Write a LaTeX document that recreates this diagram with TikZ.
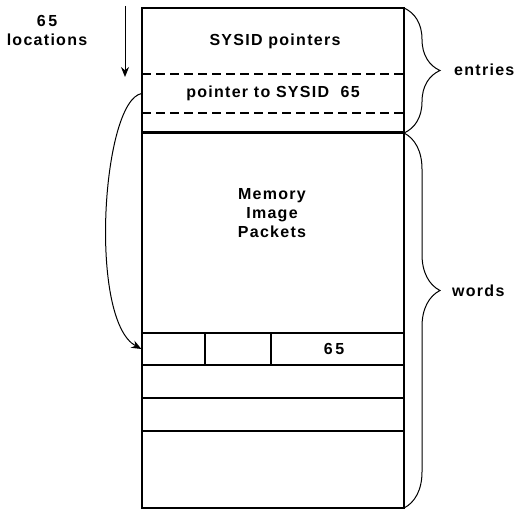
\documentclass[tikz,border=0pt]{standalone}
\usepackage{fontspec}
\setsansfont{Liberation Sans}[LetterSpace=8]
\usepackage{tikz}
\usetikzlibrary{arrows.meta,decorations.pathreplacing}

\begin{document}
\begin{tikzpicture}[
    x=1pt,y=-1pt,
    font=\sffamily\bfseries\fontsize{16}{19}\selectfont,
    lbl/.style={inner sep=0pt,align=center},
    cell/.style={draw,line width=1.2pt,minimum height=32pt,inner sep=0pt},
    frame/.style={draw,line width=1.2pt},
    dashline/.style={line width=1.2pt,dash pattern=on 9pt off 5pt},
    arr/.style={-{Stealth[length=10pt,width=8pt]},line width=1pt},
    brc/.style={decorate,decoration={brace,amplitude=36pt,aspect=#1},line width=1pt}
  ]
    \useasboundingbox (0,0) rectangle (517,510);
    % memory layout
    \draw[frame] (142,8) rectangle (404,508);
    \draw[dashline] (142,74) -- (404,74);
    \draw[dashline] (142,113) -- (404,113);
    \draw[line width=3pt] (142,133) -- (404,133);
    \node[lbl] (ptrs) at (275,41) {SYSID pointers};
    \node[lbl,minimum width=262pt] (ptr65) at (273,93.5) {pointer to SYSID\ \ 65};
    \node[lbl] (mem) at (272,213) {Memory\\Image\\Packets};
    \node[cell,minimum width=63pt] (c1) at (173.5,349) {};
    \node[cell,minimum width=66pt] (c2) at (238,349) {};
    \node[cell,minimum width=133pt] (c3) at (337.5,349) {6\,5\hspace*{7pt}};
    \draw[frame] (142,398) -- (404,398);
    \draw[frame] (142,431) -- (404,431);
    % left side
    \node[lbl] (locs) at (47,30) {6\,5\\locations};
    \coordinate (dtop) at (125,6);
    \coordinate (dbot) at (125,77);
    \draw[arr] (dtop) -- (dbot);
    \draw[arr] (ptr65.west) .. controls (102,100) and (88,320) .. (c1.west);
    % right side
    \draw[brc=0.5] (404,8) -- (404,133);
    \draw[brc=0.42] (404,133) -- (404,508);
    \node[lbl,anchor=west] (ent) at (454,70) {entries};
    \node[lbl,anchor=west] (wrd) at (452,291) {words};
  \end{tikzpicture}
\end{document}
